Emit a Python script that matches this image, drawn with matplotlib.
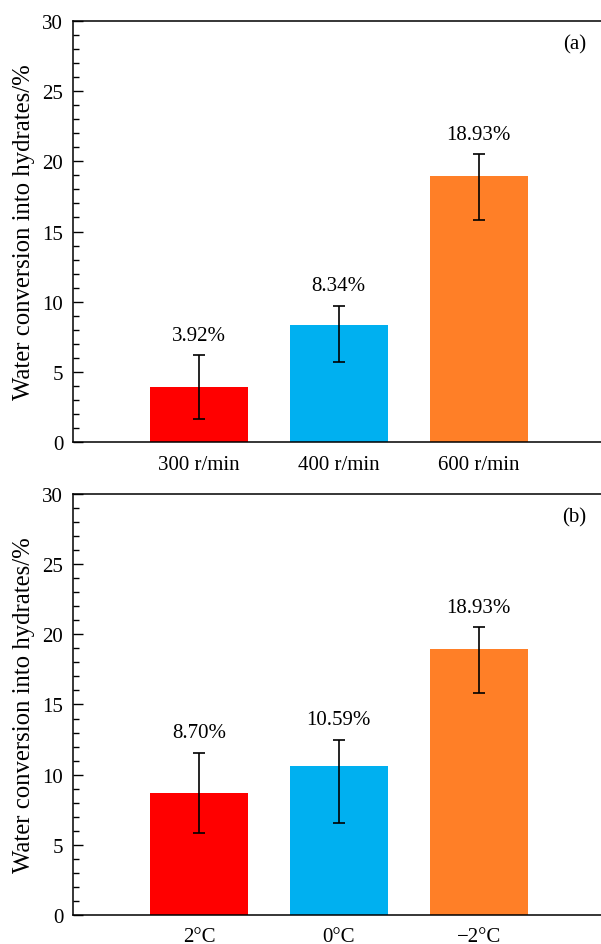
import numpy as np
import matplotlib
matplotlib.use('Agg')
import matplotlib.pyplot as plt
from matplotlib.ticker import MultipleLocator

plt.rcParams['font.family'] = ['Liberation Serif', 'DejaVu Serif']
plt.rcParams['mathtext.fontset'] = 'stix'

# panel (a): stirring speed
speed_labels = ['300 r/min', '400 r/min', '600 r/min']
speed_values = [3.92, 8.34, 18.93]
speed_err_low = [2.25, 2.66, 3.10]
speed_err_high = [2.27, 1.37, 1.57]

# panel (b): temperature
temp_labels = ['2°C', '0°C', '\u22122°C']
temp_values = [8.70, 10.59, 18.93]
temp_err_low = [2.86, 4.00, 3.10]
temp_err_high = [2.85, 1.91, 1.57]

colors = ['#FF0000', '#00B0F0', '#FF7F27']

fig = plt.figure(figsize=(6.01, 9.45), dpi=100)
ax1 = fig.add_axes([0.1215, 0.5312, 0.8785, 0.4455])
ax2 = fig.add_axes([0.1215, 0.0307, 0.8785, 0.4455])


def draw(ax, labels, values, lo, hi, tag):
    x = np.arange(len(values))
    ax.bar(x, values, width=0.7, color=colors, edgecolor='none', zorder=2)
    ax.errorbar(x, values, yerr=[lo, hi], fmt='none', ecolor='black',
                elinewidth=1.2, capsize=4.5, capthick=1.2, zorder=3)
    for xi, v, h in zip(x, values, hi):
        ax.annotate('%.2f%%' % v, (xi, v + h), xytext=(0, 14.5),
                    textcoords='offset points', ha='center', va='center',
                    fontsize=15)
    ax.set_xlim(-0.9, 2.875)
    ax.set_ylim(0, 30)
    ax.set_xticks(x)
    ax.set_xticklabels(labels, fontsize=15)
    ax.tick_params(axis='x', length=0, pad=9)
    ax.yaxis.set_major_locator(MultipleLocator(5))
    ax.yaxis.set_minor_locator(MultipleLocator(1))
    ax.tick_params(axis='y', which='major', direction='in', length=7,
                   width=1, labelsize=15, pad=7)
    ax.tick_params(axis='y', which='minor', direction='in', length=4.5,
                   width=1)
    ax.spines['right'].set_visible(False)
    for s in ['left', 'top', 'bottom']:
        ax.spines[s].set_linewidth(1.1)
    ax.set_ylabel('Water conversion into hydrates/%', fontsize=17.8,
                  labelpad=5)
    ax.text(0.973, 0.945, tag, transform=ax.transAxes, ha='right',
            va='center', fontsize=15)


draw(ax1, speed_labels, speed_values, speed_err_low, speed_err_high, '(a)')
draw(ax2, temp_labels, temp_values, temp_err_low, temp_err_high, '(b)')

fig.savefig('out.png', dpi=100)
